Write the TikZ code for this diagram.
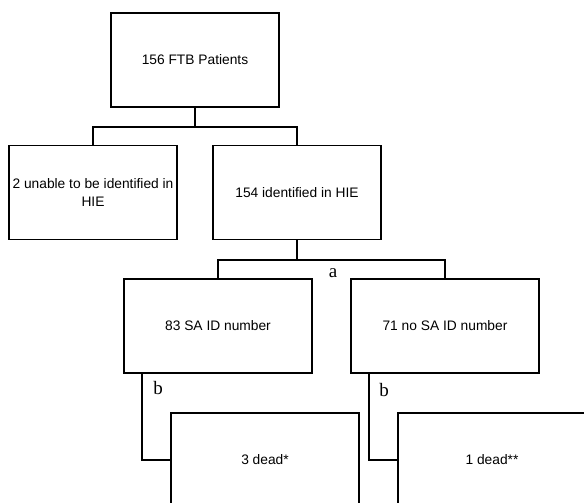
\documentclass[tikz,border=0pt]{standalone}
\usepackage{fontspec}
\setmainfont{Liberation Sans}
\newfontfamily\labelfont{Liberation Serif}
\begin{document}
\begin{tikzpicture}[
    box/.style={rectangle, draw, line width=1.3pt, minimum width=4.2cm, minimum height=2.35cm, align=center, inner sep=1pt, font=\fontsize{9.8}{12.5}\selectfont},
    widebox/.style={box, minimum width=4.7cm},
    link/.style={line width=1.3pt},
    tag/.style={font=\fontsize{13.5}{15}\labelfont}
]
    \useasboundingbox (0,0) rectangle (14.6,12.55);
    \clip (0,0) rectangle (14.6,12.55);

    % Top: all patients
    \node[box] (ftb) at (4.875, 11.05) {156 FTB Patients};

    % Second row
    \node[box] (unid) at (2.325, 7.7375) {2 unable to be identified in\\HIE};
    \node[box] (hie) at (7.425, 7.7375) {154 identified in HIE};

    % Third row
    \node[widebox] (said) at (5.45, 4.4) {83 SA ID number};
    \node[widebox] (nosaid) at (11.125, 4.4) {71 no SA ID number};

    % Bottom row
    \node[widebox] (dead1) at (6.625, 1.05) {3 dead*};
    \node[widebox] (dead2) at (12.3, 1.05) {1 dead**};

    % Tree links
    \draw[link] (ftb.south) -- ++(0,-0.475) coordinate (splitA);
    \draw[link] (splitA) -| (unid.north);
    \draw[link] (splitA) -| (hie.north);

    \draw[link] (hie.south) -- ++(0,-0.5) coordinate (splitB);
    \draw[link] (splitB) -| (said.north);
    \draw[link] (splitB) -| (nosaid.north);

    \draw[link] (said.south west) ++(0.475,0) coordinate (footA) |- (dead1.west);
    \draw[link] (nosaid.south west) ++(0.475,0) coordinate (footB) |- (dead2.west);

    % Labels
    \node[tag] (tagA) at (8.325, 5.73) {a};
    \node[tag] (tagB1) at (3.95, 2.85) {b};
    \node[tag] (tagB2) at (9.6, 2.8) {b};
\end{tikzpicture}
\end{document}
